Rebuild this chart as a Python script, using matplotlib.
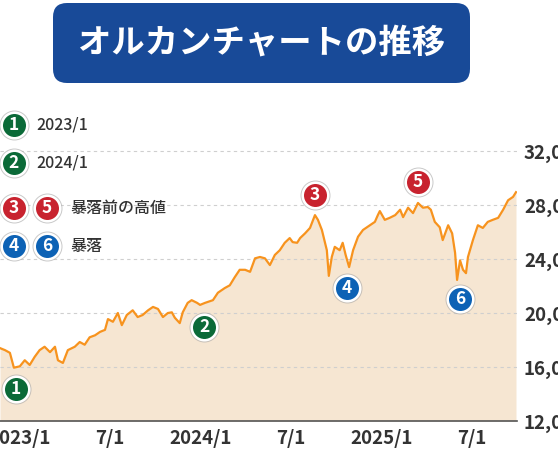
import matplotlib
matplotlib.use("Agg")
import matplotlib.pyplot as plt
import matplotlib.dates as mdates
import matplotlib.transforms as mtransforms
from matplotlib.patches import FancyBboxPatch
from matplotlib.ticker import FuncFormatter
import pandas as pd

plt.rcParams['font.family'] = ['Noto Sans CJK JP', 'DejaVu Sans']

# --- data ---
dates = [
    "2022-11-22", "2022-12-02", "2022-12-12", "2022-12-20", "2023-01-01", "2023-01-11", "2023-01-21", "2023-01-31", "2023-02-10", "2023-02-20",
    "2023-03-03", "2023-03-13", "2023-03-19", "2023-03-29", "2023-04-08", "2023-04-22", "2023-05-02", "2023-05-12", "2023-05-22", "2023-06-02",
    "2023-06-12", "2023-06-22", "2023-06-28", "2023-07-08", "2023-07-18", "2023-07-26", "2023-08-05", "2023-08-17", "2023-08-27", "2023-09-06",
    "2023-09-17", "2023-09-27", "2023-10-07", "2023-10-17", "2023-10-27", "2023-11-04", "2023-11-10", "2023-11-20", "2023-11-26", "2023-12-06",
    "2023-12-14", "2023-12-25", "2023-12-31", "2024-01-10", "2024-01-26", "2024-02-05", "2024-02-19", "2024-02-29", "2024-03-10", "2024-03-20",
    "2024-03-31", "2024-04-10", "2024-04-20", "2024-04-30", "2024-05-10", "2024-05-20", "2024-05-30", "2024-06-09", "2024-06-19", "2024-06-29",
    "2024-07-05", "2024-07-14", "2024-07-20", "2024-07-30", "2024-08-09", "2024-08-19", "2024-08-25", "2024-09-02", "2024-09-08", "2024-09-12",
    "2024-09-16", "2024-09-22", "2024-09-28", "2024-10-08", "2024-10-14", "2024-10-20", "2024-10-27", "2024-11-04", "2024-11-14", "2024-11-24",
    "2024-12-08", "2024-12-18", "2024-12-24", "2024-12-28", "2025-01-07", "2025-01-17", "2025-01-28", "2025-02-07", "2025-02-13", "2025-02-23",
    "2025-03-05", "2025-03-15", "2025-03-25", "2025-04-04", "2025-04-10", "2025-04-18", "2025-04-28", "2025-05-04", "2025-05-15", "2025-05-23",
    "2025-05-29", "2025-06-02", "2025-06-08", "2025-06-14", "2025-06-20", "2025-06-24", "2025-07-04", "2025-07-14", "2025-07-24", "2025-08-03",
    "2025-08-13", "2025-08-24", "2025-09-03", "2025-09-13", "2025-09-23", "2025-09-29",
]
values = [
    17400, 17250, 17050, 15950, 16050, 16500, 16150, 16750, 17250, 17500,
    17100, 17500, 16500, 16300, 17250, 17500, 17850, 17650, 18200, 18350,
    18600, 18750, 19550, 19350, 20000, 19100, 19850, 20200, 19700, 19850,
    20200, 20450, 20300, 19700, 20000, 20050, 19650, 19250, 20050, 20750,
    20950, 20750, 20600, 20750, 20950, 21500, 21850, 22050, 22650, 23200,
    23200, 23050, 24050, 24150, 24050, 23550, 24300, 24650, 25200, 25550,
    25250, 25200, 25550, 25900, 26300, 27250, 26900, 26150, 25250, 24650,
    22750, 24150, 24900, 24650, 25200, 24300, 23400, 24650, 25650, 26150,
    26500, 26750, 27250, 27550, 26900, 27050, 27250, 27650, 27100, 27800,
    27400, 28150, 27800, 27850, 27650, 26750, 26350, 25400, 26500, 25900,
    24450, 22450, 23900, 23200, 22950, 24150, 25400, 26500, 26300, 26750,
    26900, 27050, 27650, 28350, 28600, 28950,
]

yticks = [12000, 16000, 20000, 24000, 28000, 32000]
xtick_dates = ["2023-01-01", "2023-07-01", "2024-01-01", "2024-07-01", "2025-01-01", "2025-07-01"]
xtick_labels = ["2023/1", "7/1", "2024/1", "7/1", "2025/1", "7/1"]

title = "オルカンチャートの推移"

# badges on the chart: number, date of the point it marks
badge_nums = ["1", "2", "3", "4", "5", "6"]
badge_dates = ["2022-12-20", "2023-12-31", "2024-08-19", "2024-09-16", "2025-03-15", "2025-06-02"]

legend_nums = [["1"], ["2"], ["3", "5"], ["4", "6"]]
legend_texts = ["2023/1", "2024/1", "暴落前の高値", "暴落"]

# --- styles ---
GREEN = "#0b6a38"
RED = "#c8232f"
BLUE = "#0d62b5"
badge_color = {"1": GREEN, "2": GREEN, "3": RED, "5": RED, "4": BLUE, "6": BLUE}
badge_offset = {"1": (2, -21), "2": (4, -22), "3": (0, 20), "4": (18, -12), "5": (0, 21), "6": (3, -19)}

W, H = 558, 450
fig = plt.figure(figsize=(W / 100, H / 100), dpi=100)
ax = fig.add_axes([0, (H - 421) / H, 517 / W, (421 - 95) / H])

x = pd.to_datetime(dates)
ax.fill_between(x, 12000, values, color="#f6e6d2", lw=0, zorder=1)
ax.plot(x, values, color="#f7931e", lw=1.6, zorder=3, solid_joinstyle="round")

ax.set_xlim(pd.Timestamp("2022-11-22"), pd.Timestamp("2025-10-01"))
ax.set_ylim(12000, 12000 + (421 - 95) / 13.5 * 1000)

ax.set_yticks(yticks)
ax.yaxis.tick_right()
ax.yaxis.set_major_formatter(FuncFormatter(lambda v, p: f"{int(v):,}"))
ax.set_xticks(pd.to_datetime(xtick_dates))
ax.set_xticklabels(xtick_labels)
ax.tick_params(axis="both", length=0, labelsize=13.5, labelcolor="#333333")
ax.tick_params(axis="y", pad=5)
ax.tick_params(axis="x", pad=6)
for lab in ax.get_xticklabels() + ax.get_yticklabels():
    lab.set_fontweight("bold")

ax.grid(axis="y", color="#cfcfcf", lw=0.8, ls=(0, (3, 3)), zorder=2)
ax.set_axisbelow(False)
for s in ["top", "left", "right"]:
    ax.spines[s].set_visible(False)
ax.spines["bottom"].set_color("#555555")
ax.spines["bottom"].set_linewidth(1.2)
ax.spines["bottom"].set_zorder(4)
ax.patch.set_alpha(0)


def badge(xd, yd, num, transform):
    d = lambda px: (px * 0.72) ** 2
    ax.scatter([xd], [yd], s=d(30), color="#a8a8a8", alpha=0.6, lw=0, transform=transform, zorder=5, clip_on=False)
    ax.scatter([xd], [yd], s=d(28), color="white", lw=0, transform=transform, zorder=6, clip_on=False)
    ax.scatter([xd], [yd], s=d(23), color=badge_color[num], lw=0, transform=transform, zorder=7, clip_on=False)
    ax.text(xd, yd, num, color="white", fontsize=12.5, fontweight="bold", ha="center", va="center",
            transform=transform, zorder=8, clip_on=False)


lookup = dict(zip(dates, values))
for num, dt in zip(badge_nums, badge_dates):
    dx, dy = badge_offset[num]
    tr = mtransforms.offset_copy(ax.transData, fig=fig, x=dx, y=dy, units="dots")
    badge(mdates.date2num(pd.Timestamp(dt)), lookup[dt], num, tr)

# legend on the left (pixel positions, y from top)
ident = mtransforms.IdentityTransform()
row_y = [125, 163, 208, 246]
for nums, txt, yy in zip(legend_nums, legend_texts, row_y):
    for i, num in enumerate(nums):
        badge(14 + i * 33, H - yy, num, ident)
    tx = 36 if len(nums) == 1 else 70
    fig.text(tx, H - yy, txt, transform=ident, fontsize=11.5, color="#333333",
             ha="left", va="center", fontweight="medium")

# title box
box = FancyBboxPatch((53, H - 83), 417, 80, boxstyle="round,pad=0,rounding_size=14",
                     transform=ident, facecolor="#184a98", edgecolor="none")
fig.add_artist(box)
fig.text(262, H - 43, title, transform=ident, fontsize=24, fontweight="bold",
         color="white", ha="center", va="center")

fig.savefig("out.png", dpi=100)
